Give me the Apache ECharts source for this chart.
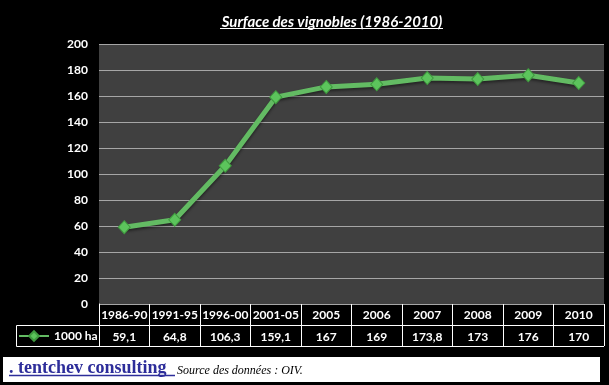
<!DOCTYPE html>
<html>
<head>
<meta charset="utf-8">
<script src="https://cdn.jsdelivr.net/npm/echarts@6/dist/echarts.min.js"></script>
<style>
html,body{margin:0;padding:0;background:#000;}
#c{width:609px;height:385px;}
</style>
</head>
<body>
<div id="c"></div>
<script>
const titleText = 'Surface des vignobles (1986-2010)';
const categories = ['1986-90','1991-95','1996-00','2001-05','2005','2006','2007','2008','2009','2010'];
const values = [59.1, 64.8, 106.3, 159.1, 167, 169, 173.8, 173, 176, 170];
const seriesName = '1000 ha';
const yTicks = [0, 20, 40, 60, 80, 100, 120, 140, 160, 180, 200];
const brandText = '. tentchev consulting ';
const sourceText = 'Source des données : OIV.';

const fmt = v => String(v).replace('.', ',');
const FONT = 'Lato, "Open Sans", sans-serif';

const chart = echarts.init(document.getElementById('c'), null, {renderer: 'canvas'});
chart.setOption({
  backgroundColor: '#000',
  animation: false,
  title: {
    text: titleText,
    left: 327, top: 10, textAlign: 'center',
    textStyle: {color: '#fff', fontFamily: FONT, fontWeight: 'bold', fontStyle: 'italic', fontSize: 15}
  },
  legend: {
    left: 18, top: 330, padding: 0,
    itemWidth: 30, itemHeight: 12, itemGap: 4,
    textStyle: {color: '#fff', fontFamily: FONT, fontWeight: 'bold', fontSize: 12},
    data: [seriesName]
  },
  grid: [
    {left: 99, right: 5, top: 44, height: 260, backgroundColor: '#404040', show: true, borderWidth: 0},
    {left: 99, right: 5, top: 304, height: 42, show: false}
  ],
  xAxis: [
    {
      type: 'category', gridIndex: 0, data: categories, boundaryGap: true,
      axisLine: {show: false}, axisTick: {show: false},
      axisLabel: {interval: 0, color: '#fff', fontFamily: FONT, fontWeight: 'bold', fontSize: 12, margin: 5}
    },
    {
      type: 'category', gridIndex: 0, data: categories, position: 'bottom', offset: 22,
      axisLine: {show: false}, axisTick: {show: false},
      axisLabel: {interval: 0, color: '#fff', fontFamily: FONT, fontWeight: 'bold', fontSize: 12, margin: 5,
        formatter: (v, i) => fmt(values[i])}
    },
    {
      type: 'category', gridIndex: 1, data: categories, boundaryGap: true,
      axisLine: {show: false}, axisTick: {show: false}, axisLabel: {show: false},
      splitLine: {show: true, interval: 0, lineStyle: {color: '#fff', width: 1}}
    }
  ],
  yAxis: [
    {
      type: 'value', gridIndex: 0, min: yTicks[0], max: yTicks[yTicks.length - 1], interval: 20,
      axisLine: {show: false}, axisTick: {show: false},
      axisLabel: {color: '#fff', fontFamily: FONT, fontWeight: 'bold', fontSize: 12, margin: 11},
      splitLine: {lineStyle: {color: '#a6a6a6', width: 1}}
    },
    {
      type: 'value', gridIndex: 1, min: 0, max: 2, interval: 1,
      axisLine: {show: true, lineStyle: {color: '#fff'}}, axisTick: {show: false}, axisLabel: {show: false},
      splitLine: {show: true, lineStyle: {color: ['#fff', '#fff', 'rgba(0,0,0,0)'], width: 1}}
    }
  ],
  series: [{
    name: seriesName, type: 'line', xAxisIndex: 0, yAxisIndex: 0,
    data: values,
    symbol: 'diamond', symbolSize: [12, 13],
    lineStyle: {color: '#63bb63', width: 5, shadowColor: 'rgba(0,0,0,0.45)', shadowBlur: 3, shadowOffsetY: 2},
    itemStyle: {color: '#5cc45c', borderColor: '#3f9a3f', borderWidth: 1},
    emphasis: {disabled: true}
  }],
  graphic: [
    {type: 'line', shape: {x1: 220, y1: 28.5, x2: 443, y2: 28.5}, style: {stroke: '#fff', lineWidth: 1}},
    {type: 'rect', shape: {x: 16.5, y: 325.5, width: 83, height: 21}, style: {fill: 'none', stroke: '#fff', lineWidth: 1}},
    {type: 'rect', shape: {x: 3, y: 357, width: 597, height: 25}, style: {fill: '#fff'}},
    {type: 'text', x: 9, y: 359, style: {text: brandText, fill: '#2d2d9a', font: 'bold 18px "Liberation Serif", "DejaVu Serif", serif'}},
    {type: 'line', shape: {x1: 9, y1: 375.5, x2: 175, y2: 375.5}, style: {stroke: '#2d2d9a', lineWidth: 1.5}},
    {type: 'text', x: 177, y: 365, style: {text: sourceText, fill: '#000', font: 'italic 12px "Liberation Serif", "DejaVu Serif", serif'}}
  ]
});
</script>
</body>
</html>
